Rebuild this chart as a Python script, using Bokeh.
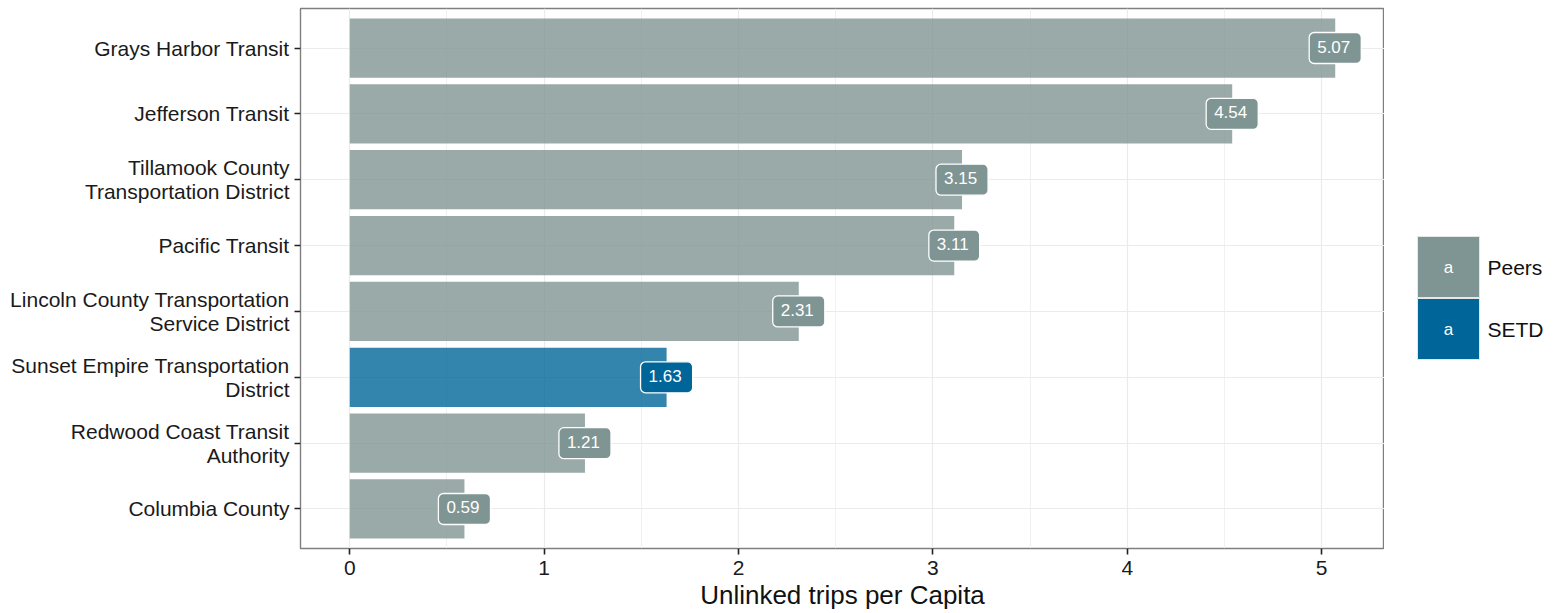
from bokeh.plotting import figure
from bokeh.layouts import row
from bokeh.models import Range1d, FixedTicker, ColumnDataSource
from bokeh.core.properties import value
from bokeh.embed import file_html
from bokeh.resources import INLINE

agencies = [
    "Grays Harbor Transit",
    "Jefferson Transit",
    "Tillamook County\nTransportation District",
    "Pacific Transit",
    "Lincoln County Transportation\nService District",
    "Sunset Empire Transportation\nDistrict",
    "Redwood Coast Transit\nAuthority",
    "Columbia County",
]
trips = [5.07, 4.54, 3.15, 3.11, 2.31, 1.63, 1.21, 0.59]
group = ["Peers", "Peers", "Peers", "Peers", "Peers", "SETD", "Peers", "Peers"]
x_ticks = [0, 1, 2, 3, 4, 5]

colors = {"Peers": "#7F9593", "SETD": "#006699"}
FONT = "Liberation Sans"

n = len(agencies)
ypos = [n - i for i in range(n)]
src = ColumnDataSource(dict(
    y=ypos, v=trips, g=group,
    c=[colors[g] for g in group],
    lab=["%.2f" % t for t in trips],
))

TOP, BOTTOM = 8, 65
H = 613
xmax = max(trips)
pad = xmax * 0.05
p = figure(width=1384, height=H, output_backend="svg", toolbar_location=None,
           x_range=Range1d(-pad, xmax + pad), y_range=Range1d(0.4, n + 0.6),
           min_border_left=300, min_border_right=0, min_border_top=TOP,
           min_border_bottom=BOTTOM)
p.hbar(y="y", right="v", left=0, height=0.9, fill_color="c", fill_alpha=0.8,
       line_color=None, source=src)
p.text(x="v", y="y", text="lab", source=src, text_align="center", text_baseline="middle",
       text_color="white", text_font=value(FONT), text_font_size="17px",
       background_fill_color="c", border_line_color="white", border_line_width=1.3,
       border_radius=5, padding=[8, 11, 8, 11])

p.outline_line_color = "#7F7F7F"
p.outline_line_width = 1.4
p.background_fill_color = "white"
p.border_fill_color = "white"

p.xaxis.ticker = FixedTicker(ticks=x_ticks, minor_ticks=[t + 0.5 for t in x_ticks])
p.yaxis.ticker = FixedTicker(ticks=ypos, minor_ticks=[])
p.yaxis.major_label_overrides = {yy: a for yy, a in zip(ypos, agencies)}
for ax in (p.xaxis, p.yaxis):
    ax.axis_line_color = None
    ax.major_tick_in = 0
    ax.major_tick_out = 6
    ax.major_tick_line_color = "#222222"
    ax.major_tick_line_width = 1.6
    ax.minor_tick_line_color = None
    ax.major_label_text_font = FONT
    ax.major_label_text_font_size = "21px"
    ax.major_label_text_color = "#1a1a1a"
    ax.major_label_text_line_height = 1.05
p.xaxis.major_label_standoff = 6
p.yaxis.major_label_standoff = 5
p.xaxis.axis_label = "Unlinked trips per Capita"
p.xaxis.axis_label_text_font = FONT
p.xaxis.axis_label_text_font_size = "26px"
p.xaxis.axis_label_text_font_style = "normal"
p.xaxis.axis_label_text_color = "#111111"
p.xaxis.axis_label_standoff = 2

p.grid.grid_line_color = "#EBEBEB"
p.grid.grid_line_width = 1.2
p.xgrid.minor_grid_line_color = "#EBEBEB"
p.xgrid.minor_grid_line_width = 0.7

# legend as a small companion figure (frame aligned with main plot's frame,
# coordinates in page pixels)
legend_groups = ["Peers", "SETD"]
lg = figure(width=160, height=H, output_backend="svg", toolbar_location=None,
            x_range=Range1d(1384, 1544), y_range=Range1d(548, 8),
            x_axis_location=None, y_axis_location=None,
            min_border=0, min_border_left=0, min_border_right=0,
            min_border_top=TOP, min_border_bottom=BOTTOM)
lg.grid.visible = False
lg.outline_line_color = None
ksrc = ColumnDataSource(dict(
    x=[1448, 1448], y=[266.5, 328.5], c=[colors[g] for g in legend_groups],
    t=legend_groups, a=["a", "a"], tx=[1487, 1487]))
lg.rect(x="x", y="y", width=62, height=61, fill_color="c", line_color="#E6E6E6",
        line_width=1, source=ksrc)
lg.text(x="x", y="y", text="a", source=ksrc, text_align="center", text_baseline="middle",
        text_color="white", text_font=value(FONT), text_font_size="17px")
lg.text(x="tx", y="y", text="t", source=ksrc, text_align="left", text_baseline="middle",
        text_color="#111111", text_font=value(FONT), text_font_size="21px")

layout = row(p, lg, spacing=0)
open("out.html", "w").write(file_html(layout, INLINE))
